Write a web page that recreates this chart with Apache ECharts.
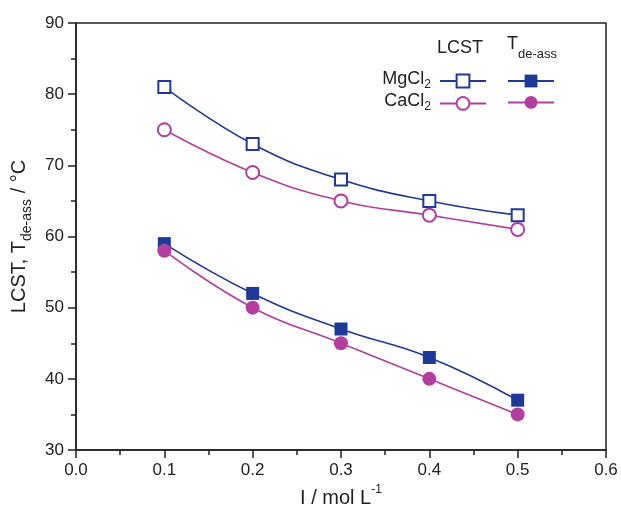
<!DOCTYPE html>
<html>
<head>
<meta charset="utf-8">
<script src="https://cdn.jsdelivr.net/npm/echarts@6/dist/echarts.min.js"></script>
<style>html,body{margin:0;padding:0;background:#fff}#c{width:621px;height:517px}</style>
</head>
<body>
<div id="c"></div>
<script>
const ionicStrength = [0.1, 0.2, 0.3, 0.4, 0.5];
const lcstMg = [81, 73, 68, 65, 63];
const lcstCa = [75, 69, 65, 63, 61];
const tdeMg = [59, 52, 47, 43, 37];
const tdeCa = [58, 50, 45, 40, 35];
const xTicks = [0.0, 0.1, 0.2, 0.3, 0.4, 0.5, 0.6];
const yTicks = [30, 40, 50, 60, 70, 80, 90];

const BLUE = '#1f3a96';
const MAG = '#b23fa0';
const FONT = 'Liberation Sans, Arial, sans-serif';

function pairs(ys) { return ionicStrength.map((x, i) => [x, ys[i]]); }

const chart = echarts.init(document.getElementById('c'), null, {renderer: 'canvas'});

function mk(name, ys, color, symbol, filled, size) {
  return {
    name: name, type: 'line', data: pairs(ys), smooth: 0.45,
    symbol: symbol, symbolSize: size,
    lineStyle: {color: color, width: 1.6},
    itemStyle: {color: filled ? color : '#fff', borderColor: color, borderWidth: filled ? 0 : 2},
    emphasis: {disabled: true}, z: filled ? 3 : 2
  };
}

const subRich = {
  m: {fontSize: 20, fontFamily: FONT, color: '#222', lineHeight: 30},
  s: {fontSize: 14, fontFamily: FONT, color: '#222', lineHeight: 30, verticalAlign: 'bottom'},
  u: {fontSize: 12, fontFamily: FONT, color: '#222', lineHeight: 30, verticalAlign: 'top'}
};

const legRich = {
  m: {fontSize: 18, fontFamily: FONT, fill: '#222', lineHeight: 24},
  s: {fontSize: 12, fontFamily: FONT, fill: '#222', lineHeight: 24, verticalAlign: 'bottom'}
};

const legendCommon = {
  orient: 'vertical', top: 68, itemWidth: 46, itemHeight: 16, itemGap: 7,
  selectedMode: false, formatter: () => ''
};

chart.setOption({
  backgroundColor: '#fff',
  animation: false,
  grid: {left: 76, right: 15, top: 23, bottom: 67, show: true, borderColor: '#222', borderWidth: 1.5, backgroundColor: 'transparent'},
  xAxis: {
    type: 'value', min: 0, max: 0.6, interval: 0.1,
    name: '{m|I / mol L}{u|-1}', nameLocation: 'middle', nameGap: 32,
    nameTextStyle: {rich: subRich},
    axisLine: {show: true, onZero: false, lineStyle: {color: '#222', width: 1.5}},
    axisTick: {show: true, inside: false, length: 8, lineStyle: {color: '#222', width: 1.5}},
    minorTick: {show: true, splitNumber: 2, length: 5, lineStyle: {color: '#222', width: 1.5}},
    splitLine: {show: false},
    axisLabel: {margin: 12, fontSize: 17, fontFamily: FONT, color: '#222',
      formatter: v => { const t = xTicks.find(k => Math.abs(k - v) < 1e-9); return t === undefined ? '' : t.toFixed(1); }}
  },
  yAxis: {
    type: 'value', min: 30, max: 90, interval: 10,
    name: '{m|LCST, T}{s|de-ass}{m| / °C}', nameLocation: 'middle', nameGap: 39,
    nameTextStyle: {rich: subRich},
    axisLine: {show: true, onZero: false, lineStyle: {color: '#222', width: 1.5}},
    axisTick: {show: true, inside: false, length: 8, lineStyle: {color: '#222', width: 1.5}},
    minorTick: {show: true, splitNumber: 2, length: 5, lineStyle: {color: '#222', width: 1.5}},
    splitLine: {show: false},
    axisLabel: {margin: 12, fontSize: 17, fontFamily: FONT, color: '#222',
      formatter: v => { const t = yTicks.find(k => Math.abs(k - v) < 1e-9); return t === undefined ? '' : String(t); }}
  },
  legend: [
    Object.assign({data: ['MgLCST', 'CaLCST'], left: 434}, legendCommon),
    Object.assign({data: ['MgTde', 'CaTde'], left: 502}, legendCommon)
  ],
  graphic: [
    {type: 'text', left: 437, top: 39, style: {text: 'LCST', fontSize: 18, fontFamily: FONT, fill: '#222'}},
    {type: 'text', left: 507, top: 35, style: {
      text: '{m|T}{s|de-ass}',
      rich: {
        m: {fontSize: 18, fontFamily: FONT, fill: '#222', lineHeight: 34},
        s: {fontSize: 13, fontFamily: FONT, fill: '#222', lineHeight: 34, verticalAlign: 'bottom'}
      }
    }},
    {type: 'text', right: 190, top: 70, style: {text: '{m|MgCl}{s|2}', rich: legRich}},
    {type: 'text', right: 190, top: 92, style: {text: '{m|CaCl}{s|2}', rich: legRich}}
  ],
  series: [
    mk('MgLCST', lcstMg, BLUE, 'rect', false, 12),
    mk('CaLCST', lcstCa, MAG, 'circle', false, 13),
    mk('MgTde', tdeMg, BLUE, 'rect', true, 13),
    mk('CaTde', tdeCa, MAG, 'circle', true, 14)
  ]
});
</script>
</body>
</html>
